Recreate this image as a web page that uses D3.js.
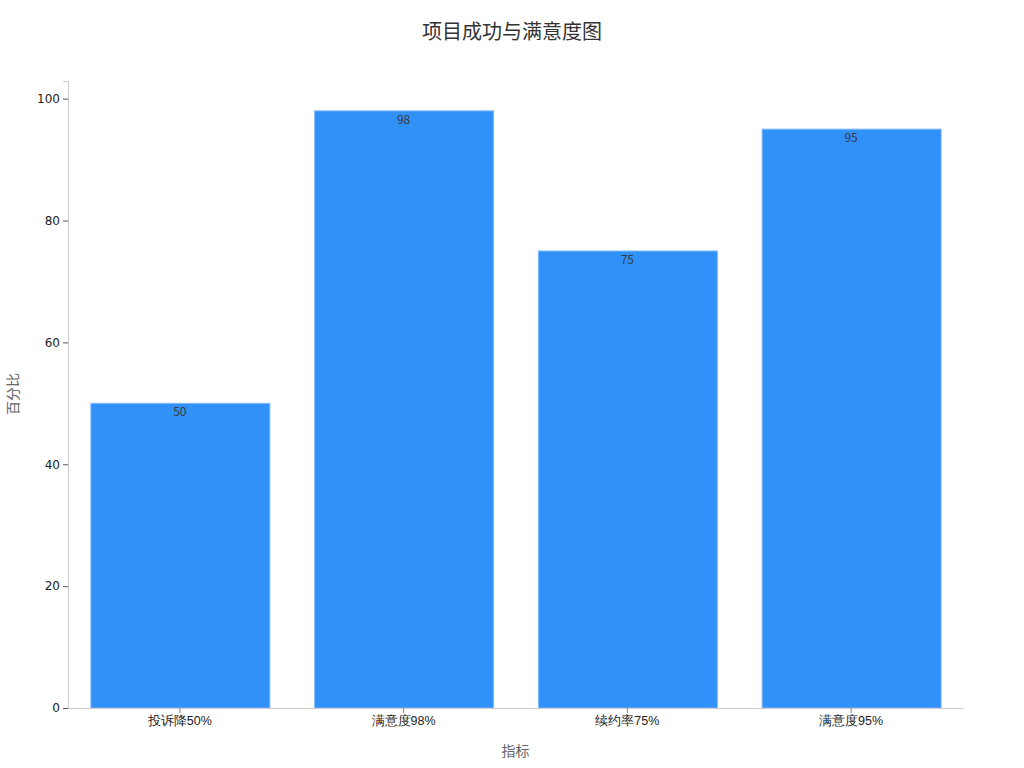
<!DOCTYPE html>
<html>
<head>
<meta charset="utf-8">
<script src="https://cdn.jsdelivr.net/npm/d3@7"></script>
<style>
body { margin: 0; background: #fff; font-family: "Noto Sans CJK SC", "DejaVu Sans", sans-serif; }
</style>
</head>
<body>
<div id="chart"></div>
<script>
var categories = ['投诉降50%', '满意度98%', '续约率75%', '满意度95%'];
var values = [50, 98, 75, 95];
var yTicks = [0, 20, 40, 60, 80, 100];

var width = 1024, height = 768;
var margin = {top: 81, right: 61, bottom: 60, left: 68};

var svg = d3.select('#chart').append('svg')
  .attr('width', width)
  .attr('height', height);

var x = d3.scaleBand()
  .domain(categories)
  .range([margin.left, width - margin.right])
  .paddingInner(0.2)
  .paddingOuter(0.1);

var y = d3.scaleLinear()
  .domain([0, d3.max(values) * 1.05])
  .range([height - margin.bottom, margin.top]);

// bars
svg.selectAll('rect.bar')
  .data(values)
  .enter()
  .append('rect')
  .attr('class', 'bar')
  .attr('x', function(d, i) { return x(categories[i]) + 0.5; })
  .attr('y', function(d) { return y(d); })
  .attr('width', x.bandwidth())
  .attr('height', function(d) { return y(0) - y(d); })
  .attr('fill', '#3092f9')
  .attr('stroke', '#7fbafb')
  .attr('stroke-width', 1);

// value labels
svg.selectAll('text.val')
  .data(values)
  .enter()
  .append('text')
  .attr('class', 'val')
  .attr('x', function(d, i) { return x(categories[i]) + x.bandwidth() / 2; })
  .attr('y', function(d) { return y(d) + 13; })
  .attr('text-anchor', 'middle')
  .attr('font-size', 12)
  .attr('fill', '#3a3a3a')
  .text(function(d) { return d; });

// y axis
var yAxis = svg.append('g')
  .attr('transform', 'translate(' + margin.left + ',0)')
  .call(d3.axisLeft(y).tickValues(yTicks).tickSize(5).tickPadding(3));
yAxis.select('.domain').attr('stroke', '#ccc');
yAxis.selectAll('.tick line').attr('stroke', '#555');
yAxis.selectAll('.tick text').attr('font-size', 12).attr('fill', '#222')
  .attr('font-family', 'DejaVu Sans, sans-serif');

// x axis
var xAxis = svg.append('g')
  .attr('transform', 'translate(0,' + (height - margin.bottom) + ')')
  .call(d3.axisBottom(x).tickSize(5).tickSizeOuter(0).tickPadding(3));
xAxis.select('.domain').attr('stroke', '#ccc');
xAxis.selectAll('.tick line').attr('stroke', '#888');
xAxis.selectAll('.tick text').attr('font-size', 12.5).attr('fill', '#222');

// title
svg.append('text')
  .attr('x', width / 2)
  .attr('y', 39)
  .attr('text-anchor', 'middle')
  .attr('font-size', 20)
  .attr('fill', '#333')
  .text('项目成功与满意度图');

// axis titles
svg.append('text')
  .attr('x', (margin.left + width - margin.right) / 2)
  .attr('y', 756)
  .attr('text-anchor', 'middle')
  .attr('font-size', 14)
  .attr('fill', '#666')
  .text('指标');

svg.append('text')
  .attr('transform', 'translate(18,' + 394 + ') rotate(-90)')
  .attr('text-anchor', 'middle')
  .attr('font-size', 14)
  .attr('fill', '#666')
  .text('百分比');
</script>
</body>
</html>
